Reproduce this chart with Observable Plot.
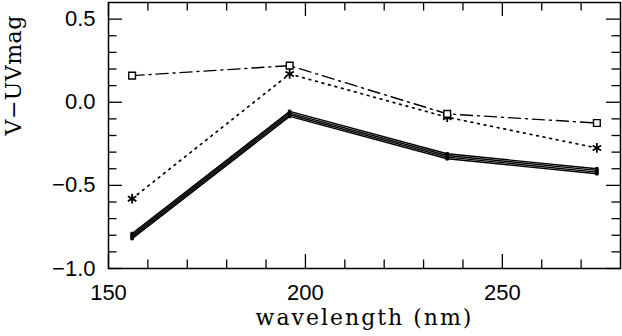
<!DOCTYPE html>
<html><head><meta charset="utf-8">
<script src="https://cdn.jsdelivr.net/npm/d3@7"></script>
<script src="https://cdn.jsdelivr.net/npm/@observablehq/plot@0.6"></script>
<style>body{margin:0;background:#fff} #chart{width:622px;height:336px}</style>
</head><body><div id="chart"></div>
<script>
// data
const wavelength = [156, 196, 236, 274];
const squareSeries = [0.16, 0.22, -0.07, -0.125];
const starSeries = [-0.58, 0.17, -0.09, -0.275];
const solidA = [-0.790, -0.055, -0.310, -0.400];
const solidB = [-0.800, -0.065, -0.320, -0.410];
const solidC = [-0.810, -0.075, -0.330, -0.420];
const solidD = [-0.820, -0.085, -0.340, -0.430];
const xMajor = [150, 200, 250];
const xMinor = [160, 170, 180, 190, 210, 220, 230, 240, 260, 270];
const yMajor = [0.5, 0.0, -0.5, -1.0];
const yMinor = [0.4, 0.3, 0.2, 0.1, -0.1, -0.2, -0.3, -0.4, -0.6, -0.7, -0.8, -0.9];
const xLabel = "wavelength (nm)";
const yLabel = "V\u2212UVmag";

const W = 622, H = 336;
const mL = 108, mR = 2, mT = 2, mB = 68;
const frameH = H - mT - mB, frameW = W - mL - mR;
const majorLen = 14, minorLen = 8.5;

const rows = (ys, name) => wavelength.map((x, i) => ({x, y: ys[i], name}));
const squares = rows(squareSeries, "sq");
const stars = rows(starSeries, "st");
const solids = [solidA, solidB, solidC, solidD].flatMap((s, k) => rows(s, "s" + k));

const tickStyle = {stroke: "black", strokeWidth: 1.3};
const chart = Plot.plot({
  width: W, height: H,
  marginLeft: mL, marginRight: mR, marginTop: mT, marginBottom: mB,
  x: {domain: [150, 280]},
  y: {domain: [-1.0, 0.6]},
  style: {fontFamily: "'Liberation Sans', Arial, sans-serif", background: "white", color: "black"},
  marks: [
    // ticks, inward on all four sides
    Plot.tickX(xMinor, {x: d => d, insetTop: frameH - minorLen, ...tickStyle}),
    Plot.tickX(xMajor, {x: d => d, insetTop: frameH - majorLen, ...tickStyle}),
    Plot.tickX(xMinor, {x: d => d, insetBottom: frameH - minorLen, ...tickStyle}),
    Plot.tickX(xMajor, {x: d => d, insetBottom: frameH - majorLen, ...tickStyle}),
    Plot.tickY(yMinor, {y: d => d, insetRight: frameW - minorLen, ...tickStyle}),
    Plot.tickY(yMajor, {y: d => d, insetRight: frameW - majorLen, ...tickStyle}),
    Plot.tickY(yMinor, {y: d => d, insetLeft: frameW - minorLen, ...tickStyle}),
    Plot.tickY(yMajor, {y: d => d, insetLeft: frameW - majorLen, ...tickStyle}),
    Plot.axisX(xMajor, {tickSize: 0, tickPadding: 16, fontSize: 22, label: null, tickFormat: d => String(d)}),
    Plot.axisY(yMajor, {tickSize: 0, tickPadding: 13, fontSize: 22, label: null, tickFormat: d3.format(".1f")}),
    Plot.frame({stroke: "black", strokeWidth: 1.5}),
    // series
    Plot.line(solids, {x: "x", y: "y", z: "name", stroke: "black", strokeWidth: 1.4}),
    Plot.dot(solids, {x: "x", y: "y", symbol: "square", r: 1.5, fill: "black", stroke: "black", strokeWidth: 0.8}),
    Plot.line(stars, {x: "x", y: "y", stroke: "black", strokeWidth: 1.7, strokeDasharray: "1.7,5"}),
    Plot.dot(stars, {x: "x", y: "y", symbol: "asterisk", r: 4.6, stroke: "black", strokeWidth: 1.8}),
    Plot.line(squares, {x: "x", y: "y", stroke: "black", strokeWidth: 1.4, strokeDasharray: "12,5,2,5"}),
    Plot.dot(squares, {x: "x", y: "y", symbol: "square", r: 3.8, fill: "white", stroke: "black", strokeWidth: 1.4}),
    // axis titles
    Plot.text([xLabel], {text: d => d, frameAnchor: "bottom", dy: 56, fontSize: 22, fontFamily: "'DejaVu Serif', serif", fill: "black"}),
    Plot.text([yLabel], {text: d => d, frameAnchor: "left", dx: -95, rotate: -90, fontSize: 22, fontFamily: "'DejaVu Serif', serif", fill: "black"})
  ]
});
chart.querySelectorAll("text").forEach(t => {
  if (t.textContent === xLabel) t.style.letterSpacing = "2px";
  if (t.textContent === yLabel) t.style.letterSpacing = "0.5px";
});
document.getElementById("chart").appendChild(chart);
</script>
</body></html>
